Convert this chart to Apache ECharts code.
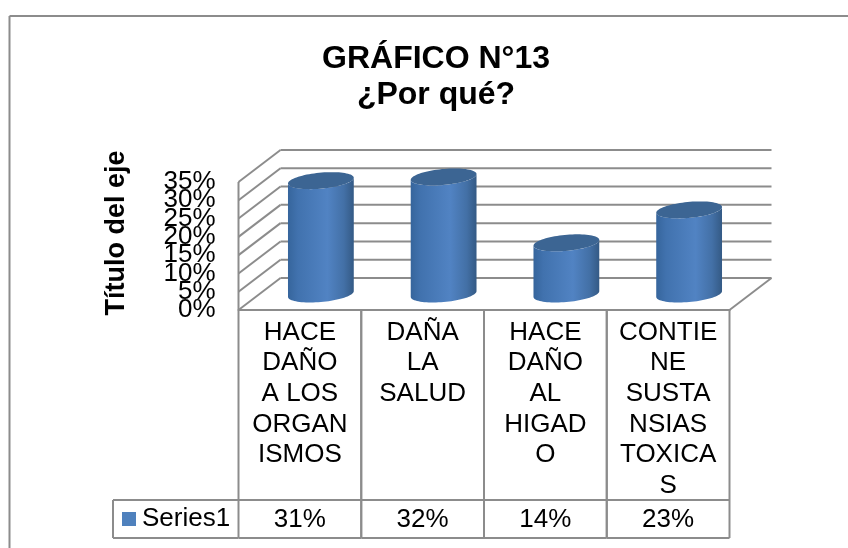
<!DOCTYPE html>
<html>
<head>
<meta charset="utf-8">
<style>html,body{margin:0;padding:0;background:#fff}#c{width:848px;height:548px}</style>
<script src="https://cdn.jsdelivr.net/npm/echarts@6/dist/echarts.min.js"></script>
</head>
<body>
<div id="c"></div>
<script>
const categories = ['HACE\nDAÑO\nA LOS\nORGAN\nISMOS', 'DAÑA\nLA\nSALUD', 'HACE\nDAÑO\nAL\nHIGAD\nO', 'CONTIE\nNE\nSUSTA\nNSIAS\nTOXICA\nS'];
const seriesValues = [31, 32, 14, 23];
const seriesName = 'Series1';
const yTicks = [0, 5, 10, 15, 20, 25, 30, 35];
const titleText = 'GRÁFICO N°13\n¿Por qué?';
const yAxisTitle = 'Título del eje';

const FONT = '"Liberation Sans", Arial, sans-serif';
const LINE = '#8c8c8c';
const LINE_W = 2;
const DEPTH_X = 42, DEPTH_Y = -32;
const TABLE_HEAD = 190, TABLE_ROW = 38, LEGEND_LEFT = 113;
const R_U = 31, R_SHEAR = 11, R_V = 8.5;

const chart = echarts.init(document.getElementById('c'), null, {renderer: 'canvas'});

function ln(x1, y1, x2, y2) {
  return {type: 'line', shape: {x1, y1, x2, y2}, style: {stroke: LINE, lineWidth: LINE_W, fill: null}};
}

function renderGrid(params, api) {
  const v = api.value(1);
  const p0 = api.coord([0, v]);
  const band = api.size([1, 0])[0];
  const xl = p0[0] - band / 2;
  const xr = xl + band * categories.length;
  const y = p0[1];
  const ch = [
    ln(xl, y, xl + DEPTH_X, y + DEPTH_Y),
    ln(xl + DEPTH_X, y + DEPTH_Y, xr + DEPTH_X, y + DEPTH_Y)
  ];
  if (v === yTicks[0]) ch.push(ln(xr, y, xr + DEPTH_X, y + DEPTH_Y));
  if (v === yTicks[yTicks.length - 1]) {
    const y0 = api.coord([0, yTicks[0]])[1];
    ch.push(ln(xl, y, xl, y0));
  }
  return {type: 'group', children: ch};
}

function ellipsePts(cx, cy, from, to, n) {
  const pts = [];
  for (let i = 0; i <= n; i++) {
    const t = from + (to - from) * i / n;
    pts.push([cx + R_U * Math.cos(t) + R_SHEAR * Math.sin(t), cy - R_V * Math.sin(t)]);
  }
  return pts;
}

function renderCyl(params, api) {
  const i = api.value(0), v = api.value(1);
  const top = api.coord([i, v]), base = api.coord([i, 0]);
  const cx = top[0] + DEPTH_X / 2;
  const ct = top[1] + DEPTH_Y / 2, cb = base[1] + DEPTH_Y / 2;
  const t0 = Math.atan2(R_SHEAR, R_U);
  // lower half of the base rim, then back along the lower half of the top rim
  const lower = ellipsePts(cx, cb, t0 + Math.PI, t0 + 2 * Math.PI, 40);
  const upper = ellipsePts(cx, ct, t0 + 2 * Math.PI, t0 + Math.PI, 40);
  return {type: 'group', children: [
    {type: 'polygon', shape: {points: lower.concat(upper)}, style: {
      fill: new echarts.graphic.LinearGradient(0, 0, 1, 0, [
        {offset: 0, color: '#36659c'},
        {offset: 0.15, color: '#4172ae'},
        {offset: 0.6, color: '#5183c3'},
        {offset: 0.85, color: '#4370a6'},
        {offset: 1, color: '#345a85'}
      ])
    }},
    {type: 'polygon', shape: {points: ellipsePts(cx, ct, 0, 2 * Math.PI, 80)}, style: {fill: '#3c6593'}}
  ]};
}

function renderTable(params, api) {
  const i = api.value(0);
  const p = api.coord([i, 0]);
  const band = api.size([1, 0])[0];
  const xl = p[0] - band / 2, xr = xl + band;
  const y0 = p[1], y1 = y0 + TABLE_HEAD, y2 = y1 + TABLE_ROW;
  const ch = [
    ln(xl, y0, xl, y2), ln(xr, y0, xr, y2),
    ln(xl, y1, xr, y1), ln(xl, y2, xr, y2),
    {type: 'text', x: p[0], y: (y1 + y2) / 2 + 1, style: {
      text: seriesValues[i] + '%', fill: '#000', font: '26px ' + FONT,
      align: 'center', verticalAlign: 'middle'
    }}
  ];
  if (i === 0) {
    ch.push(ln(LEGEND_LEFT, y1, xl, y1), ln(LEGEND_LEFT, y2, xl, y2), ln(LEGEND_LEFT, y1, LEGEND_LEFT, y2));
  }
  return {type: 'group', children: ch};
}

const yLabelStyle = {formatter: '{value}%', margin: 23, fontFamily: FONT, fontSize: 26, color: '#000', hideOverlap: false, padding: [6, 0, 0, 0]};

chart.setOption({
  animation: false,
  backgroundColor: '#fff',
  color: ['#4f81bd'],
  title: {
    text: titleText, left: 431, top: 36, textAlign: 'center',
    textStyle: {fontFamily: FONT, fontWeight: 'bold', fontSize: 32, lineHeight: 36, color: '#000'}
  },
  legend: {
    data: [{name: seriesName, icon: 'rect'}], left: 122, top: 506, padding: 0,
    itemWidth: 14, itemHeight: 14, itemGap: 4, selectedMode: false,
    itemStyle: {color: '#4f81bd'},
    textStyle: {fontFamily: FONT, fontSize: 26, color: '#000', padding: [1, 0, 0, 1]}
  },
  grid: {left: 238.5, right: 118.5, top: 182, bottom: 238, containLabel: false},
  xAxis: {
    type: 'category', data: categories,
    axisLine: {show: true, lineStyle: {color: LINE, width: LINE_W}},
    axisTick: {show: false},
    axisLabel: {interval: 0, margin: 7, fontFamily: FONT, fontSize: 26, lineHeight: 30.7, color: '#000', align: 'center', verticalAlign: 'top'}
  },
  yAxis: [
    {
      type: 'value', position: 'left', min: yTicks[0], max: yTicks[yTicks.length - 1], interval: yTicks[1] - yTicks[0],
      name: yAxisTitle, nameLocation: 'middle', nameGap: 108, nameRotate: 90,
      nameTextStyle: {fontFamily: FONT, fontWeight: 'bold', fontSize: 27, color: '#000', padding: [0, 0, 0, 26]},
      axisLine: {show: false}, axisTick: {show: false}, splitLine: {show: false},
      axisLabel: Object.assign({}, yLabelStyle, {showMinLabel: false, showMaxLabel: false})
    },
    {
      // carries the end labels, which ECharts drops on one axis when tightly packed labels touch
      type: 'value', position: 'left', min: yTicks[0], max: yTicks[yTicks.length - 1],
      axisLine: {show: false}, axisTick: {show: false}, splitLine: {show: false},
      axisLabel: Object.assign({}, yLabelStyle, {customValues: [yTicks[0], yTicks[yTicks.length - 1]]})
    }
  ],
  series: [
    {name: 'grid', type: 'custom', silent: true, renderItem: renderGrid, z: 1,
     data: yTicks.map(t => [0, t]), encode: {x: 0, y: 1}, clip: false},
    {name: 'table', type: 'custom', silent: true, renderItem: renderTable, z: 2,
     data: seriesValues.map((v, i) => [i, 0]), encode: {x: 0, y: 1}, clip: false},
    {name: seriesName, type: 'custom', renderItem: renderCyl, z: 3,
     data: seriesValues.map((v, i) => [i, v]), encode: {x: 0, y: 1}, clip: false}
  ],
  graphic: [
    {type: 'line', shape: {x1: 9.5, y1: 16, x2: 9.5, y2: 548}, style: {stroke: LINE, lineWidth: LINE_W}},
    {type: 'line', shape: {x1: 9.5, y1: 16, x2: 848, y2: 16}, style: {stroke: LINE, lineWidth: LINE_W}}
  ]
});
</script>
</body>
</html>
